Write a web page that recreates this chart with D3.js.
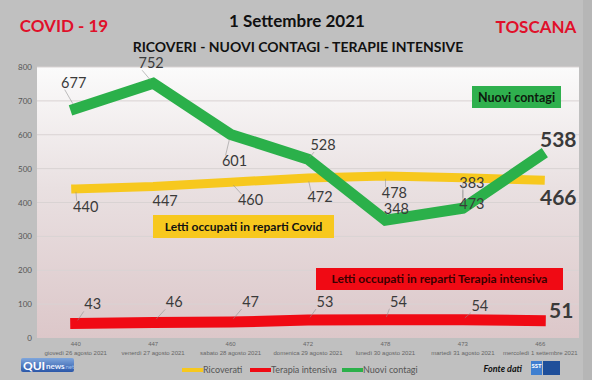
<!DOCTYPE html>
<html><head><meta charset="utf-8">
<script src="https://cdn.jsdelivr.net/npm/d3@7/dist/d3.min.js"></script>
<style>body{margin:0;background:#c0c0c0;} svg{display:block;font-family:Lato,"Open Sans",sans-serif;}</style>
</head><body><svg id="c" width="592" height="380"></svg>
<script>
// ---- data ----
const dates = ["giovedì 26 agosto 2021","venerdì 27 agosto 2021","sabato 28 agosto 2021","domenica 29 agosto 2021","lunedì 30 agosto 2021","martedì 31 agosto 2021","mercoledì 1 settembre 2021"];
const ricoverati = [440,447,460,472,478,473,466];
const terapia = [43,46,47,53,54,54,51];
const contagi = [677,752,601,528,348,383,538];
const yTicks = [0,100,200,300,400,500,600,700,800];
const seriesNames = ["Ricoverati","Terapia intensiva","Nuovi contagi"];
// label offsets (layout only) relative to each point
const offContagi = [[-2,-21],[-2,-15],[4,32],[15,-9],[11,-6],[9,-20],[18,-9]];
const offRicov = [[10,23],[12,19],[20,23],[12,24],[9,22],[9,31],[18,25]];
const offTerapia = [[17,-14],[21,-15],[20,-15],[17,-13],[13,-13],[17,-9],[21,-3]];

const svg = d3.select("#c");
const L=37,R=579,T=67,B=338;
const cats = dates.map((d,i)=>i);
const x = d3.scaleBand().domain(cats).range([L,R]);
const cx = i => x(i)+x.bandwidth()/2;
const y = d3.scaleLinear().domain([0,800]).range([B,T]);

svg.append("rect").attr("width",592).attr("height",380).attr("fill","#c0c0c0");
svg.append("rect").attr("x",583).attr("y",0).attr("width",9).attr("height",380).attr("fill","#b6b6b6");

const defs = svg.append("defs");
const g1 = defs.append("linearGradient").attr("id","bg").attr("x1",0).attr("y1",0).attr("x2",0).attr("y2",1);
g1.append("stop").attr("offset","0%").attr("stop-color","#fbfbfb");
g1.append("stop").attr("offset","45%").attr("stop-color","#e9e0e1");
g1.append("stop").attr("offset","100%").attr("stop-color","#dcc7c9");
const g2 = defs.append("linearGradient").attr("id","qg").attr("x1",0).attr("y1",0).attr("x2",0).attr("y2",1);
g2.append("stop").attr("offset","0%").attr("stop-color","#7fa6dc");
g2.append("stop").attr("offset","100%").attr("stop-color","#2b57a8");

svg.append("rect").attr("x",L).attr("y",T).attr("width",R-L).attr("height",B-T).attr("fill","url(#bg)");

// grid
svg.append("g").selectAll("line").data(yTicks.filter(d=>d>0)).join("line")
  .attr("x1",L).attr("x2",R).attr("y1",d=>y(d)).attr("y2",d=>y(d))
  .attr("stroke","#d9d3d3").attr("stroke-width",1);

// y axis
const ya = svg.append("g").attr("transform",`translate(${L},0)`)
  .call(d3.axisLeft(y).tickValues(yTicks).tickSize(0).tickPadding(5));
ya.select(".domain").remove();
ya.selectAll("text").attr("fill","#555").style("font-size","8px").style("font-family","Lato,sans-serif");

// x axis labels
const xa = svg.append("g").attr("transform",`translate(0,${B})`)
  .call(d3.axisBottom(x).tickSize(0).tickFormat(()=>"" ));
xa.select(".domain").remove();
xa.selectAll(".tick text").remove();
xa.selectAll(".tick").each(function(i){
  const t=d3.select(this).append("text").attr("fill","#666").attr("text-anchor","middle")
    .style("font-size","6px");
  t.append("tspan").attr("x",0).attr("y",8).text(ricoverati[i]);
  t.append("tspan").attr("x",0).attr("y",16.5).text(dates[i]);
});

// annotation boxes
function box(x0,y0,w,h,fill,txt,col,fs){
  svg.append("rect").attr("x",x0).attr("y",y0).attr("width",w).attr("height",h).attr("fill",fill);
  svg.append("text").attr("x",x0+w/2).attr("y",y0+h/2+fs*0.36).attr("text-anchor","middle")
    .attr("font-weight","bold").attr("font-size",fs).attr("fill",col).text(txt);
}
box(472,86,89,22,"#2fb04e","Nuovi contagi","#0d1a0d",12.5);
box(153,215,181,23,"#f7c81e","Letti occupati in reparti Covid","#111",12);
box(316,268,247,22,"#f00a14","Letti occupati in reparti Terapia intensiva","#3b0000",12);

// lines
const line = d3.line().x((d,i)=>cx(i)).y(d=>y(d));
function drawLine(data,color,w){
  svg.append("path").datum(data).attr("d",line).attr("fill","none")
    .attr("stroke",color).attr("stroke-width",w).attr("stroke-linecap","square").attr("stroke-linejoin","miter");
}
drawLine(ricoverati,"#f7c81e",9);
drawLine(terapia,"#f00a14",11);
drawLine(contagi,"#2bb04a",11);

// labels
function labels(data,offs){
  data.forEach((v,i)=>{
    const px=cx(i), py=y(v);
    const [dx,dy]=offs[i];
    const last = i===data.length-1;
    const fs = last?21:14.5;
    const lx = px+dx - (last?13:9), ly = py+dy + (dy<0?2:-11);
    if(Math.hypot(px-lx,py-ly)>9 && !last){
      svg.append("line").attr("x1",lx).attr("y1",ly).attr("x2",px+(lx-px)*0.25).attr("y2",py+(ly-py)*0.25)
        .attr("stroke","#8f8f8f").attr("stroke-width",0.7).attr("opacity",0.8);
    }
    svg.append("text").attr("x",px+dx).attr("y",py+dy).attr("text-anchor","middle")
      .attr("font-size",fs).attr("font-weight",last?"bold":"normal").attr("fill","#3a3a3a")
      .text(v);
  });
}
labels(contagi,offContagi);
labels(ricoverati,offRicov);
labels(terapia,offTerapia);

// titles
svg.append("text").attr("x",64).attr("y",32).attr("text-anchor","middle").attr("font-weight","bold")
  .attr("font-size",17).attr("fill","#e0102a").text("COVID - 19");
svg.append("text").attr("x",536).attr("y",33).attr("text-anchor","middle").attr("font-weight","bold")
  .attr("font-size",17).attr("fill","#e0102a").text("TOSCANA");
svg.append("text").attr("x",297).attr("y",27).attr("text-anchor","middle").attr("font-weight","bold")
  .attr("font-size",17).attr("fill","#111").text("1 Settembre 2021");
svg.append("text").attr("x",298).attr("y",52).attr("text-anchor","middle").attr("font-weight","bold")
  .attr("font-size",14).attr("fill","#111").text("RICOVERI - NUOVI CONTAGI - TERAPIE INTENSIVE");

// legend
const colors = ["#f7c81e","#f00a14","#2bb04a"];
const legX = [182,250,342];
seriesNames.forEach((n,k)=>{
  svg.append("line").attr("x1",legX[k]).attr("x2",legX[k]+21).attr("y1",370).attr("y2",370)
    .attr("stroke",colors[k]).attr("stroke-width",4);
  svg.append("text").attr("x",legX[k]+21).attr("y",373).attr("font-size",9).attr("fill","#555").text(n);
});

// source & logos
svg.append("text").attr("x",522).attr("y",372).attr("text-anchor","end").attr("font-size",9)
  .attr("font-style","italic").attr("font-weight","bold").attr("fill","#111").text("Fonte dati");
svg.append("rect").attr("x",531).attr("y",361).attr("width",11).attr("height",14).attr("fill","#3f7fd0");
svg.append("rect").attr("x",543).attr("y",361).attr("width",17).attr("height",14).attr("fill","#1f4f9a");
svg.append("text").attr("x",536.5).attr("y",368).attr("text-anchor","middle").attr("font-size",6).attr("font-weight","bold").attr("fill","#fff").text("SST");
svg.append("rect").attr("x",21).attr("y",358).attr("width",53).attr("height",14).attr("rx",2).attr("fill","url(#qg)");
svg.append("text").attr("x",23).attr("y",370).attr("font-size",12).attr("font-weight","bold").attr("fill","#fff").text("QUI");
svg.append("text").attr("x",46).attr("y",369).attr("font-size",8).attr("font-weight","bold").attr("fill","#eaf0ff").text("news");
svg.append("text").attr("x",64).attr("y",369).attr("font-size",6).attr("fill","#9fc0ee").text(".net");
</script></body></html>
